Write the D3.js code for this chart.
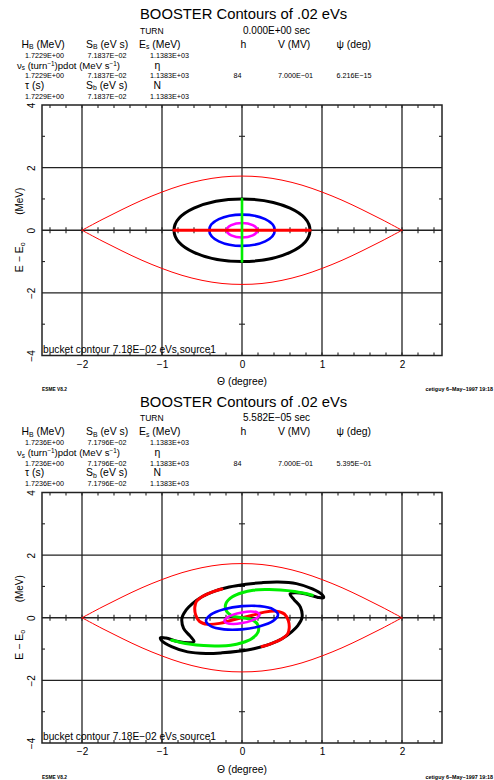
<!DOCTYPE html>
<html lang="en">
<head>
<meta charset="UTF-8">
<title>BOOSTER Contours of .02 eVs</title>
<script src="https://cdn.jsdelivr.net/npm/d3@7"></script>
<style>
  body { margin: 0; background: #fff; }
  svg text { font-family: "Liberation Sans", Arial, sans-serif; fill: #000; }
</style>
</head>
<body>
<div class="chart"></div>
<script>
  // ---- data ----
  const xTickValues = [-2, -1, 0, 1, 2];
  const xTickLabels = ["−2", "−1", "0", "1", "2"];
  const yTickValues = [-4, -2, 0, 2, 4];
  const yTickLabels = ["−4", "−2", "0", "2", "4"];
  const yMinorTicks = [-3, -1, 1, 3];

  const turnTimes = ["0.000E+00 sec", "5.582E−05 sec"];
  const row1Values = [
    ["1.7229E+00", "7.1837E−02", "1.1383E+03"],
    ["1.7236E+00", "7.1796E−02", "1.1383E+03"]
  ];
  const row2Values = [
    ["1.7229E+00", "7.1837E−02", "1.1383E+03", "84", "7.000E−01", "6.216E−15"],
    ["1.7236E+00", "7.1796E−02", "1.1383E+03", "84", "7.000E−01", "5.395E−01"]
  ];
  const row3Values = [
    ["1.7229E+00", "7.1837E−02", "1.1383E+03"],
    ["1.7236E+00", "7.1796E−02", "1.1383E+03"]
  ];

  // bucket separatrix (upper half, lower half is mirrored)
  const bucketTheta = [-2, -1.75, -1.5, -1.25, -1, -0.75, -0.5, -0.25, 0, 0.25, 0.5, 0.75, 1, 1.25, 1.5, 1.75, 2];
  const bucketE     = [0, 0.34, 0.66, 0.96, 1.22, 1.44, 1.60, 1.70, 1.73, 1.70, 1.60, 1.44, 1.22, 0.96, 0.66, 0.34, 0];

  // turn 0: matched ellipses (black, blue, magenta) and the two lines
  const startNames = ["black", "blue", "magenta"];
  const startHalfTheta = [0.85, 0.41, 0.19];
  const startHalfE = [1.0, 0.5, 0.23];
  const redStartTheta = [-0.85, 0.85], redStartE = [0, 0];
  const greenStartTheta = [0, 0], greenStartE = [-1, 1];

  // turn 5.582E-05 sec: filamented contours
  const blackTheta = [-0.75, -0.70, -0.62, -0.50, -0.35, -0.16, 0.05, 0.25, 0.45, 0.68, 0.88, 1.00, 1.02, 0.95, 0.80, 0.66, 0.60, 0.65, 0.73,
                      0.75, 0.70, 0.62, 0.50, 0.35, 0.16, -0.05, -0.25, -0.45, -0.68, -0.88, -1.00, -1.02, -0.95, -0.80, -0.66, -0.60, -0.65, -0.73];
  const blackE     = [0.00, 0.24, 0.45, 0.67, 0.84, 0.98, 1.07, 1.12, 1.14, 1.09, 0.92, 0.74, 0.64, 0.65, 0.76, 0.80, 0.76, 0.58, 0.34,
                      0.00, -0.24, -0.45, -0.67, -0.84, -0.98, -1.07, -1.12, -1.14, -1.09, -0.92, -0.74, -0.64, -0.65, -0.76, -0.80, -0.76, -0.58, -0.34];
  const redTheta = [-0.25, -0.35, -0.50, -0.57, -0.59, -0.58, -0.53, -0.43, -0.28, -0.13, 0, 0.13, 0.28, 0.43, 0.53, 0.58, 0.59, 0.57, 0.50, 0.35, 0.25];
  const redE     = [0.92, 0.84, 0.67, 0.52, 0.33, 0.10, -0.12, -0.21, -0.18, -0.08, 0, 0.08, 0.18, 0.21, 0.12, -0.10, -0.33, -0.52, -0.67, -0.84, -0.92];
  const greenTheta = [0.88, 0.78, 0.66, 0.48, 0.30, 0.14, 0.0, -0.12, -0.20, -0.20, -0.13, 0.0, 0.13, 0.20, 0.20, 0.12, 0.0, -0.14, -0.30, -0.48, -0.66, -0.78, -0.88];
  const greenE     = [0.72, 0.78, 0.84, 0.89, 0.90, 0.88, 0.80, 0.67, 0.46, 0.24, 0.07, 0.0, -0.07, -0.24, -0.46, -0.67, -0.80, -0.88, -0.90, -0.89, -0.84, -0.78, -0.72];
  const blueTheta = [0.45, 0.39, 0.225, 0, -0.225, -0.39, -0.45, -0.39, -0.225, 0, 0.225, 0.39];
  const blueE     = [0.10, 0.27, 0.37, 0.37, 0.27, 0.10, -0.10, -0.27, -0.37, -0.37, -0.27, -0.10];
  const magentaTheta = [0.22, 0.19, 0.11, 0, -0.11, -0.19, -0.22, -0.19, -0.11, 0, 0.11, 0.19];
  const magentaE     = [0.10, 0.17, 0.20, 0.17, 0.10, 0.0, -0.10, -0.17, -0.20, -0.17, -0.10, 0.0];

  // ---- layout ----
  const bxSize = {w: 494, h: 780};
  const panelOffsets = [0, 387.5];
  const plot = {left: 42, right: 442, top: 105, bottom: 355.5};
  const colors = {black: "#000", red: "#ff0000", green: "#00ee00", blue: "#0000ff", magenta: "#ff00ff"};

  const xScale = d3.scaleLinear().domain([-2.5, 2.5]).range([plot.left, plot.right]);
  const yScale = d3.scaleLinear().domain([-4, 4]).range([plot.bottom, plot.top]);

  const svg = d3.select('.chart').append('svg')
    .attr('width', bxSize.w).attr('height', bxSize.h);

  svg.append('clipPath').attr('id', 'plotclip').append('rect')
    .attr('x', plot.left).attr('y', plot.top)
    .attr('width', plot.right - plot.left).attr('height', plot.bottom - plot.top);

  const zip = (xs, ys) => xs.map((v, i) => [v, ys[i]]);
  const openLine = d3.line().x(d => xScale(d[0])).y(d => yScale(d[1])).curve(d3.curveCatmullRom.alpha(0.5));
  const closedLine = d3.line().x(d => xScale(d[0])).y(d => yScale(d[1])).curve(d3.curveCatmullRomClosed.alpha(0.5));

  function richText(sel, x, y, parts, size, extra) {
    const t = sel.append('text').attr('x', x).attr('y', y).attr('font-size', size);
    if (extra) extra(t);
    let shift = 0;
    parts.forEach(([s, kind]) => {
      const want = kind === 'sub' ? size * 0.18 : kind === 'sup' ? -size * 0.3 : 0;
      t.append('tspan').attr('dy', want - shift).attr('font-size', kind ? size * 0.66 : size).text(s);
      shift = want;
    });
    return t;
  }

  function drawPanel(p) {
    const g = svg.append('g').attr('transform', `translate(0 ${panelOffsets[p]})`);

    // header
    g.append('text').attr('x', 140).attr('y', 19).attr('font-size', 14.8).text('BOOSTER Contours of .02 eVs');
    g.append('text').attr('x', 140).attr('y', 33.5).attr('font-size', 8.5).text('TURN');
    g.append('text').attr('x', 243).attr('y', 33.5).attr('font-size', 10).text(turnTimes[p]);

    const ls = 10.4;
    richText(g, 21.5, 47.5, [["H"], ["B", "sub"], [" (MeV)"]], ls);
    richText(g, 86, 47.5, [["S"], ["B", "sub"], [" (eV s)"]], ls);
    richText(g, 139, 47.5, [["E"], ["s", "sub"], [" (MeV)"]], ls);
    richText(g, 240.5, 47.5, [["h"]], ls);
    richText(g, 278, 47.5, [["V (MV)"]], ls);
    richText(g, 336.5, 47.5, [["ψ (deg)"]], ls);
    richText(g, 17, 68.5, [["ν"], ["s", "sub"], [" (turn"], ["−1", "sup"], [")pdot (MeV s"], ["−1", "sup"], [")"]], 9.6);
    richText(g, 154.5, 68.5, [["η"]], ls);
    richText(g, 25, 88.5, [["τ (s)"]], ls);
    richText(g, 86, 88.5, [["S"], ["b", "sub"], [" (eV s)"]], ls);
    richText(g, 153.5, 88.5, [["N"]], ls);

    const valX = [25, 87.5, 150, 233.5, 278, 336.5];
    const vs = 7.2;
    [[row1Values, 57.5], [row2Values, 78], [row3Values, 98.5]].forEach(([rows, yy]) => {
      rows[p].forEach((v, i) => g.append('text').attr('x', valX[i]).attr('y', yy).attr('font-size', vs).text(v));
    });

    // frame, grid, ticks
    const grid = g.append('g').attr('stroke', '#222').attr('stroke-width', 1.3).attr('fill', 'none');
    xTickValues.forEach(v => grid.append('line')
      .attr('x1', xScale(v)).attr('x2', xScale(v)).attr('y1', yScale(4)).attr('y2', yScale(-4)));
    yTickValues.slice(1, -1).forEach(v => grid.append('line')
      .attr('x1', xScale(-2.5)).attr('x2', xScale(2.5)).attr('y1', yScale(v)).attr('y2', yScale(v)));
    grid.append('rect').attr('x', plot.left).attr('y', plot.top)
      .attr('width', plot.right - plot.left).attr('height', plot.bottom - plot.top).attr('stroke-width', 1.5);

    const tk = g.append('g').attr('stroke', '#222').attr('stroke-width', 1.1);
    const minorX = xScale.ticks(25).filter(v => v > -2.5 && v < 2.5);
    minorX.forEach(v => {
      const px = xScale(v);
      tk.append('line').attr('x1', px).attr('x2', px).attr('y1', plot.bottom).attr('y2', plot.bottom - 3);
      tk.append('line').attr('x1', px).attr('x2', px).attr('y1', plot.top).attr('y2', plot.top + 3);
      tk.append('line').attr('x1', px).attr('x2', px).attr('y1', yScale(0) - 3).attr('y2', yScale(0) + 3);
    });
    yMinorTicks.forEach(v => {
      const py = yScale(v);
      tk.append('line').attr('x1', plot.left).attr('x2', plot.left + 3).attr('y1', py).attr('y2', py);
      tk.append('line').attr('x1', plot.right).attr('x2', plot.right - 3).attr('y1', py).attr('y2', py);
      tk.append('line').attr('x1', xScale(0) - 3).attr('x2', xScale(0) + 3).attr('y1', py).attr('y2', py);
    });

    // axes labels
    const xAxis = d3.axisBottom(xScale).tickValues(xTickValues).tickSize(0).tickPadding(5)
      .tickFormat((d, i) => xTickLabels[i]);
    const xa = g.append('g').attr('transform', `translate(0 ${plot.bottom})`).call(xAxis);
    xa.select('.domain').remove();
    xa.selectAll('text').attr('font-size', 10).attr('font-family', null).attr('fill', '#000');

    const yAxis = d3.axisLeft(yScale).tickValues(yTickValues).tickSize(0)
      .tickFormat((d, i) => yTickLabels[i]);
    const ya = g.append('g').attr('transform', 'translate(35 0)').call(yAxis);
    ya.select('.domain').remove();
    ya.selectAll('text').attr('x', 0).attr('dy', 0).attr('text-anchor', 'middle')
      .attr('transform', 'rotate(-90)').attr('font-size', 10).attr('font-family', null).attr('fill', '#000');

    richText(g, 0, 0, [["E − E"], ["o", "sub"]], 10.5,
      t => t.attr('text-anchor', 'middle').attr('transform', `translate(23 ${yScale(0) + 27}) rotate(-90)`));
    g.append('text').attr('text-anchor', 'middle').attr('font-size', 10)
      .attr('transform', `translate(23 ${yScale(0) - 29}) rotate(-90)`).text('(MeV)');

    g.append('text').attr('x', xScale(0)).attr('y', 385).attr('text-anchor', 'middle')
      .attr('font-size', 10.3).text('Θ (degree)');
    g.append('text').attr('x', 42).attr('y', 391).attr('font-size', 4.8).attr('font-weight', 'bold').text('ESME V8.2');
    g.append('text').attr('x', 493).attr('y', 391).attr('text-anchor', 'end').attr('font-size', 5.4)
      .attr('font-weight', 'bold').text('cetiguy  6−May−1997 19:18');

    // contours
    const c = g.append('g').attr('clip-path', 'url(#plotclip)').attr('fill', 'none')
      .attr('stroke-linejoin', 'round').attr('stroke-linecap', 'round');
    const bucket = zip(bucketTheta, bucketE);
    c.append('path').attr('d', openLine(bucket)).attr('stroke', colors.red).attr('stroke-width', 1);
    c.append('path').attr('d', openLine(bucket.map(d => [d[0], -d[1]]))).attr('stroke', colors.red).attr('stroke-width', 1);

    if (p === 0) {
      c.selectAll('ellipse.start').data(startNames.map((n, i) => ({n, a: startHalfTheta[i], b: startHalfE[i]})))
        .enter().append('ellipse')
        .attr('cx', xScale(0)).attr('cy', yScale(0))
        .attr('rx', d => xScale(d.a) - xScale(0)).attr('ry', d => yScale(0) - yScale(d.b))
        .attr('stroke', d => colors[d.n]).attr('stroke-width', d => d.n === 'black' ? 3 : 2.6);
      c.append('path').attr('d', openLine(zip(redStartTheta, redStartE))).attr('stroke', colors.red).attr('stroke-width', 3);
      c.append('path').attr('d', openLine(zip(greenStartTheta, greenStartE))).attr('stroke', colors.green).attr('stroke-width', 2.6);
    } else {
      c.append('path').attr('d', closedLine(zip(blackTheta, blackE))).attr('stroke', colors.black).attr('stroke-width', 3);
      c.append('path').attr('d', openLine(zip(redTheta, redE))).attr('stroke', colors.red).attr('stroke-width', 3);
      c.append('path').attr('d', openLine(zip(greenTheta, greenE))).attr('stroke', colors.green).attr('stroke-width', 3);
      c.append('path').attr('d', closedLine(zip(blueTheta, blueE))).attr('stroke', colors.blue).attr('stroke-width', 2.6);
      c.append('path').attr('d', closedLine(zip(magentaTheta, magentaE))).attr('stroke', colors.magenta).attr('stroke-width', 2.6);
    }

    g.append('text').attr('x', 43).attr('y', 352.5).attr('font-size', 10.2)
      .text('bucket contour 7.18E−02 eVs source1');
  }

  panelOffsets.forEach((_, p) => drawPanel(p));
</script>
</body>
</html>
